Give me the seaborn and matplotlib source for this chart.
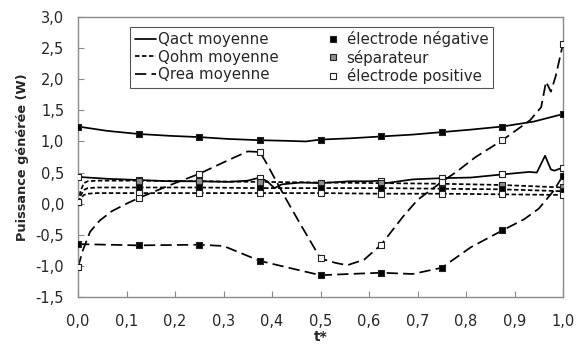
import matplotlib
matplotlib.use("Agg")
import matplotlib.pyplot as plt
from matplotlib.lines import Line2D
import numpy as np
import pandas as pd
import seaborn as sns

# ---------------- data ----------------
T_MARK = [0.0, 0.125, 0.25, 0.375, 0.5, 0.625, 0.75, 0.875, 1.0]

t_act_neg = [0.0, 0.06, 0.125, 0.19, 0.25, 0.31, 0.375, 0.43, 0.47, 0.5, 0.56, 0.625, 0.69, 0.75, 0.81, 0.875, 0.94, 1.0]
q_act_neg = [1.24, 1.17, 1.12, 1.09, 1.07, 1.04, 1.02, 1.01, 1.00, 1.03, 1.05, 1.08, 1.11, 1.15, 1.19, 1.24, 1.32, 1.44]

t_act_pos = [0.0, 0.06, 0.125, 0.19, 0.25, 0.31, 0.35, 0.375, 0.39, 0.405, 0.42, 0.46, 0.5, 0.56, 0.6, 0.625, 0.635,
             0.69, 0.75, 0.81, 0.875, 0.93, 0.946, 0.963, 0.975, 0.982, 1.0]
q_act_pos = [0.43, 0.40, 0.38, 0.36, 0.36, 0.35, 0.37, 0.42, 0.36, 0.25, 0.31, 0.34, 0.33, 0.36, 0.36, 0.37, 0.33,
             0.39, 0.41, 0.42, 0.47, 0.51, 0.50, 0.77, 0.55, 0.53, 0.58]

t_ohm = [0.0, 0.005, 0.012, 0.02, 0.04, 0.125, 0.25, 0.375, 0.5, 0.625, 0.75, 0.875, 1.0]
q_ohm_sep = [0.02, 0.20, 0.33, 0.36, 0.37, 0.37, 0.36, 0.35, 0.34, 0.33, 0.32, 0.30, 0.26]
q_ohm_neg = [0.02, 0.13, 0.22, 0.25, 0.26, 0.26, 0.26, 0.25, 0.25, 0.25, 0.24, 0.23, 0.20]
q_ohm_pos = [0.02, 0.08, 0.14, 0.16, 0.17, 0.17, 0.17, 0.17, 0.17, 0.16, 0.16, 0.15, 0.14]

t_rea_neg = [0.0, 0.125, 0.25, 0.3, 0.375, 0.44, 0.5, 0.56, 0.625, 0.69, 0.75, 0.81, 0.875, 0.92, 0.95, 0.98, 1.0]
q_rea_neg = [-0.65, -0.67, -0.66, -0.68, -0.92, -1.04, -1.15, -1.13, -1.11, -1.13, -1.03, -0.70, -0.43, -0.25,
             -0.08, 0.20, 0.45]

t_rea_pos = [0.0, 0.01, 0.025, 0.045, 0.07, 0.1, 0.125, 0.19, 0.25, 0.31, 0.35, 0.375, 0.385, 0.43, 0.46, 0.5,
             0.53, 0.555, 0.59, 0.625, 0.643, 0.67, 0.7, 0.75, 0.78, 0.82, 0.875, 0.932, 0.955, 0.965, 0.975,
             0.985, 1.0]
q_rea_pos = [-1.02, -0.75, -0.45, -0.27, -0.12, 0.0, 0.09, 0.30, 0.48, 0.70, 0.84, 0.83, 0.70, 0.06, -0.35, -0.88,
             -0.95, -0.99, -0.90, -0.66, -0.48, -0.21, 0.06, 0.35, 0.51, 0.75, 1.02, 1.34, 1.55, 1.96, 1.80,
             2.05, 2.57]

XTICKS = [0.0, 0.1, 0.2, 0.3, 0.4, 0.5, 0.6, 0.7, 0.8, 0.9, 1.0]
XTICK_LABELS = ["0,0", "0,1", "0,2", "0,3", "0,4", "0,5", "0,6", "0,7", "0,8", "0,9", "1,0"]
YTICKS = [-1.5, -1.0, -0.5, 0.0, 0.5, 1.0, 1.5, 2.0, 2.5, 3.0]
YTICK_LABELS = ["-1,5", "-1,0", "-0,5", "0,0", "0,5", "1,0", "1,5", "2,0", "2,5", "3,0"]

LINE_LABELS = ["Qact moyenne", "Qohm moyenne", "Qrea moyenne"]
ZONE_LABELS = ["électrode négative", "séparateur", "électrode positive"]

# ---------------- style ----------------
sns.set_style("white")
plt.rcParams["font.family"] = ["DejaVu Sans"]

GREY_SPINE = "#8a8a8a"
ZONE_COLORS = {"neg": "black", "sep": "#8f8f8f", "pos": "white"}
LS = {
    "act": "-",
    "ohm": (0, (2.6, 1.4)),
    "rea": (0, (6.5, 3.0)),
}

fig = plt.figure(figsize=(5.77, 3.5), dpi=100)
ax = fig.add_axes([78 / 577, 1 - 297 / 350, (563 - 78) / 577, (297 - 17) / 350])

series = [
    ("act", "neg", t_act_neg, q_act_neg),
    ("act", "pos", t_act_pos, q_act_pos),
    ("ohm", "sep", t_ohm, q_ohm_sep),
    ("ohm", "neg", t_ohm, q_ohm_neg),
    ("ohm", "pos", t_ohm, q_ohm_pos),
    ("rea", "neg", t_rea_neg, q_rea_neg),
    ("rea", "pos", t_rea_pos, q_rea_pos),
]

for kind, zone, t, q in series:
    df = pd.DataFrame({"t": t, "q": q})
    sns.lineplot(data=df, x="t", y="q", ax=ax, color="black", linestyle=LS[kind],
                 linewidth=1.25, sort=False, estimator=None, zorder=2)

for kind, zone, t, q in series:
    df = pd.DataFrame({"t": t, "q": q})
    dm = df[df["t"].isin(T_MARK)]
    sns.scatterplot(data=dm, x="t", y="q", ax=ax, marker="s", s=22,
                    color=ZONE_COLORS[zone], edgecolor="#222222", linewidth=0.8, zorder=3)

ax.set_xlim(0, 1.0)
ax.set_ylim(-1.5, 3.0)
ax.set_xticks(XTICKS)
ax.set_xticklabels(XTICK_LABELS)
ax.set_yticks(YTICKS)
ax.set_yticklabels(YTICK_LABELS)
ax.tick_params(axis="both", direction="in", length=4, width=0.8, color=GREY_SPINE,
               labelsize=10.5, bottom=True, left=True)
ax.tick_params(axis="x", pad=12)
ax.tick_params(axis="y", pad=10)
for sp in ax.spines.values():
    sp.set_color(GREY_SPINE)
    sp.set_linewidth(1.0)

ax.set_xlabel("t*", fontsize=10, fontweight="bold", labelpad=1)
ax.set_ylabel("Puissance générée (W)", fontsize=9.3, fontweight="bold", labelpad=5)

handles = [
    Line2D([], [], color="black", linestyle=LS["act"], linewidth=1.25),
    Line2D([], [], color="black", linestyle=LS["ohm"], linewidth=1.25),
    Line2D([], [], color="black", linestyle=LS["rea"], linewidth=1.25),
    Line2D([], [], linestyle="none", marker="s", markersize=4.5, markerfacecolor=ZONE_COLORS["neg"],
           markeredgecolor="#222222", markeredgewidth=0.8),
    Line2D([], [], linestyle="none", marker="s", markersize=4.5, markerfacecolor=ZONE_COLORS["sep"],
           markeredgecolor="#222222", markeredgewidth=0.8),
    Line2D([], [], linestyle="none", marker="s", markersize=4.5, markerfacecolor=ZONE_COLORS["pos"],
           markeredgecolor="#222222", markeredgewidth=0.8),
]
labels = LINE_LABELS + ZONE_LABELS
leg = ax.legend(handles, labels, ncol=2, loc="upper left",
                bbox_to_anchor=((130 - 78) / 485, (297 - 27) / 280),
                fontsize=10.8, frameon=True, fancybox=False, framealpha=1,
                edgecolor="#555555", handlelength=1.4, handletextpad=0.2,
                columnspacing=2.9, labelspacing=0.15, borderpad=0.3, borderaxespad=0)
leg.get_frame().set_linewidth(0.8)

fig.savefig("out.png", dpi=100)
